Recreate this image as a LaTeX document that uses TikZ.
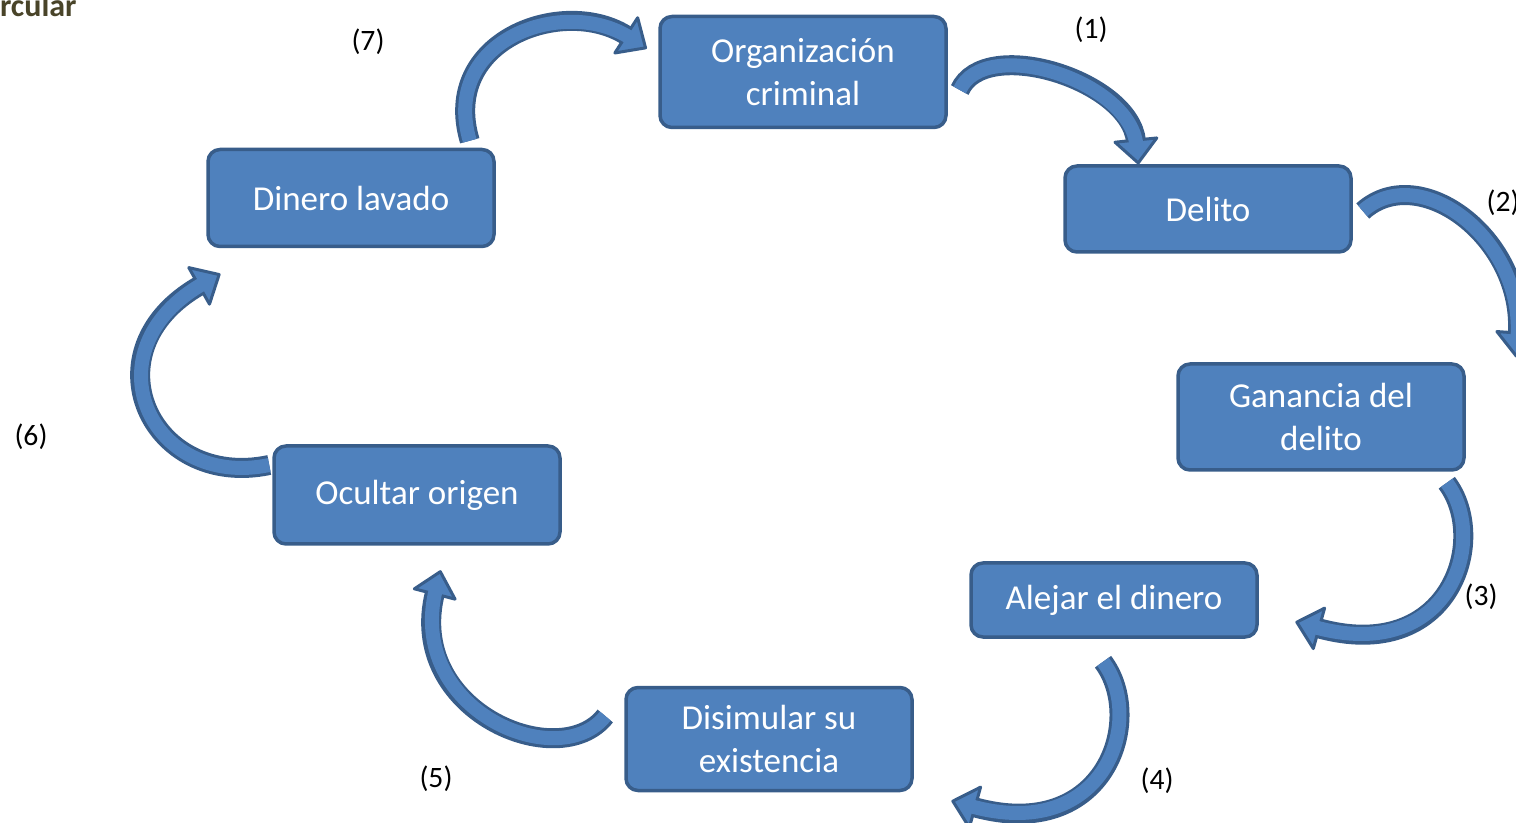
\documentclass[tikz,border=0pt]{standalone}
\usepackage{fontspec}
\setmainfont{Carlito}
\usetikzlibrary{calc,decorations.markings}
\definecolor{boxblue}{RGB}{79,129,189}
\definecolor{boxline}{RGB}{56,93,138}
\definecolor{titleolive}{RGB}{73,68,41}
\tikzset{
  stage/.style={draw=boxline, fill=boxblue, line width=1.75pt, rounded corners=6pt,
    minimum width=143pt, text=white, align=center,
    font=\fontsize{17.5}{21.5}\selectfont},
  num/.style={font=\fontsize{14.8}{18}\selectfont},
  cycle arrow/.style={draw=boxline, line width=10pt,
    postaction={decorate, decoration={markings, mark=at position 0.999 with {
      \draw[boxline, fill=boxblue, line width=1.5pt, line join=round]
        (-0.5pt,-10.5pt) -- (11pt,0pt) -- (-0.5pt,10.5pt) -- cycle;}}},
    postaction={draw=boxblue, line width=7pt, shorten >=-2pt}}
}

\begin{document}
\begin{tikzpicture}[x=0.5pt,y=-0.5pt]
  \useasboundingbox (0,0) rectangle (1516,823);
  % title
  \node[anchor=base east, inner sep=0pt, text=titleolive,
        font=\bfseries\fontsize{16}{19}\selectfont] (title) at (77,17) {rcular};
  % boxes
  \node[stage, minimum height=55.5pt] (org)   at (803,72)  {Organización\\criminal};
  \node[stage, minimum height=43pt]   (delito) at (1208,209) {Delito};
  \node[stage, minimum height=53pt]   (ganancia) at (1321,417) {Ganancia del\\delito};
  \node[stage, minimum height=37pt]   (alejar) at (1114,600) {Alejar el dinero};
  \node[stage, minimum height=51.5pt] (disimular) at (769,739) {Disimular su\\existencia};
  \node[stage, minimum height=49pt]   (ocultar) at (417,495) {Ocultar origen};
  \node[stage, minimum height=48.5pt] (lavado) at (351,198) {Dinero lavado};
  % arrows
  \draw[cycle arrow] ($(org.east)+(12,18)$)
    .. controls +(25,-55) and +(-6,-61) .. ($(delito.north)+(-72,-23)$);
  \draw[cycle arrow] ($(delito.east)+(10,2)$)
    .. controls +(57,-51) and +(7,-95) .. ($(ganancia.north east)+(52,-28)$);
  \draw[cycle arrow] ($(ganancia.south east)+(-19,11)$)
    .. controls +(43,57) and +(132,37) .. ($(alejar.east)+(59,28)$);
  \draw[cycle arrow] ($(alejar.south)+(-11,23)$)
    .. controls +(43,57) and +(132,37) .. ($(disimular.east)+(60,68)$);
  \draw[cycle arrow] ($(disimular.west)+(-19,-23)$)
    .. controls +(-46,59) and +(-30,118) .. ($(ocultar.south)+(18,47)$);
  \draw[cycle arrow] ($(ocultar.west)+(-3,-30)$)
    .. controls +(-119,25) and +(-115,65) .. ($(lavado.south west)+(-6,37)$);
  \draw[cycle arrow] ($(lavado.north east)+(-26,-7)$)
    .. controls +(-30,-101) and +(-63,-41) .. ($(org.west)+(-31,-36)$);
  % labels
  \node[num] (n1) at (1091,30)  {(1)};
  \node[num] (n2) at (1503,203) {(2)};
  \node[num] (n3) at (1481,597) {(3)};
  \node[num] (n4) at (1157,781) {(4)};
  \node[num] (n5) at (436,779)  {(5)};
  \node[num] (n6) at (31,437)   {(6)};
  \node[num] (n7) at (368,42)   {(7)};
\end{tikzpicture}
\end{document}
